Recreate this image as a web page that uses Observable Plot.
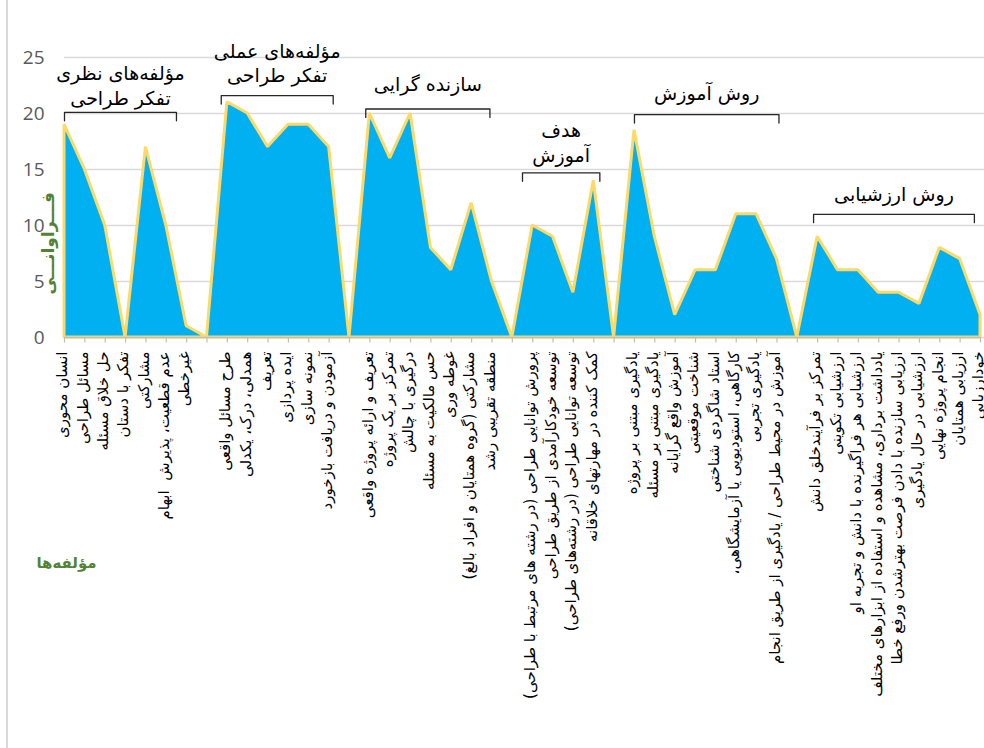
<!DOCTYPE html>
<html><head><meta charset="utf-8">
<script src="https://cdn.jsdelivr.net/npm/d3@7"></script>
<script src="https://cdn.jsdelivr.net/npm/@observablehq/plot@0.6"></script>
<style>
html,body{margin:0;padding:0;background:#fff;overflow:hidden;}
#wrap{position:relative;width:984px;height:748px;overflow:hidden;}
#border{position:absolute;left:6px;top:0;width:2px;height:748px;background:#d9d9d9;}
#chart{position:absolute;left:0;top:0;}
</style></head><body><div id="wrap"><div id="border"></div><div id="chart"></div></div>
<script>
// Category labels (empty string = gap between groups)
const categories = [
  "انسان محوری","مسائل طراحی","حل خلاق مسئله","تفکر با دستان","مشارکتی","عدم قطعیت، پذیرش  ابهام","غیرخطی","",
  "طرح مسائل واقعی","همدلی، درک، یکدلی","تعریف","ایده پردازی","نمونه سازی","آزمودن و دریافت بازخورد","",
  "تعریف و ارائه پروژه واقعی","تمرکز بر یک پروژه","درگیری با چالش","حس مالکیت به مسئله","غوطه وری","مشارکتی (گروه همتایان و افراد بالغ)","منطقه تقریبی رشد","",
  "پرورش توانایی طراحی (در رشته های مرتبط با طراحی)","توسعه خودکارآمدی از طریق طراحی","توسعه توانایی طراحی (در رشته‌های طراحی)","کمک کننده در مهارتهای خلاقانه","",
  "یادگیری مبتنی بر پروژه","یادگیری مبتنی بر مسئله","آموزش واقع گرایانه","شناخت موقعیتی","استاد شاگردی شناختی","کارگاهی، استودیویی یا آزمایشگاهی،","یادگیری تجربی","آموزش در محیط طراحی / یادگیری از طریق انجام","",
  "تمرکز بر فرآیندخلق دانش","ارزشیابی تکوینی","ارزشیابی هر فراگیرنده با دانش و تجربه او","یادداشت برداری، مشاهده و استفاده از ابزارهای مختلف","ارزیابی سازنده با دادن فرصت بهترشدن ورفع خطا","ارزشیابی در حال یادگیری","انجام پروژه نهایی","ارزیابی همتایان","خودارزیابی"
];
const frequencies = [
  19,15,10,0,17,10,1,0,
  21,20,17,19,19,17,0,
  20,16,20,8,6,12,5,0,
  10,9,4,14,0,
  18.5,9,2,6,6,11,11,7,0,
  9,6,6,4,4,3,8,7,2
];
const yTicks = [0,5,10,15,20,25];
const yTitle = "فـــراوانـــی";
const xTitle = "مؤلفه‌ها";

// Group annotations (data units: category index, frequency)
const groupTitles = ["مؤلفه‌های نظری\nتفکر طراحی","مؤلفه‌های عملی\nتفکر طراحی","سازنده گرایی","هدف\nآموزش","روش آموزش","روش ارزشیابی"];
const groupFrom   = [0, 7.7, 14.8, 22.5, 28, 36.8];
const groupTo     = [5.5, 13.2, 20.9, 26.3, 35.1, 44.7];
const groupLevel  = [20.1, 21.6, 20.4, 14.7, 19.9, 11.0];
const groupTitleLevel = [22.6, 24.6, 22.7, 17.5, 21.9, 12.9];
const yTitleLevel = 8.4;

const rtl = s => s.split("\n").map(l => "\u200F" + l + "\u200F").join("\n");

const data = categories.map((c, i) => ({i, label: c, v: frequencies[i]}));
const labelled = data.filter(d => d.label !== "");
const groups = groupTitles.map((t, k) => ({
  title: t, x1: groupFrom[k], x2: groupTo[k], level: groupLevel[k],
  mid: (groupFrom[k] + groupTo[k]) / 2, ty: groupTitleLevel[k]
}));
const bracketPts = groups.flatMap((g, k) => [
  {k, x: g.x1, y: g.level - 0.75},
  {k, x: g.x1, y: g.level},
  {k, x: g.x2, y: g.level},
  {k, x: g.x2, y: g.level - 0.75}
]);

const arabicFont = "'DejaVu Sans', sans-serif";

const chart = Plot.plot({
  width: 984,
  height: 748,
  marginLeft: 64,
  marginRight: 4,
  marginTop: 57,
  marginBottom: 411,
  style: {fontFamily: arabicFont, background: "transparent", overflow: "visible"},
  x: {domain: [0, categories.length - 1], axis: null},
  y: {domain: [0, 25], axis: null},
  marks: [
    Plot.ruleY(yTicks, {stroke: "#d9d9d9", strokeWidth: 1.5, insetRight: -4}),
    Plot.areaY(data, {x: "i", y: "v", fill: "#00B0F0", stroke: "#FFD966", strokeWidth: 3, strokeLinejoin: "miter", curve: "linear"}),
    Plot.ruleY([0], {stroke: "#bfbfbf", strokeWidth: 1.5}),
    Plot.ruleX(data, {x: "i", y1: 0, y2: -0.5, stroke: "#bfbfbf", strokeWidth: 1.2}),
    Plot.text(labelled, {x: "i", y: 0, text: d => rtl(d.label), rotate: -90, textAnchor: "end", lineAnchor: "middle", dx: -2, dy: 14, fontSize: 15, fill: "#000"}),
    Plot.text(yTicks, {frameAnchor: "left", y: d => d, text: d => String(d), textAnchor: "end", dx: -20, fontSize: 19, fill: "#595959", fontFamily: "'Open Sans', 'Liberation Sans', sans-serif"}),
    Plot.line(bracketPts, {x: "x", y: "y", z: "k", stroke: "#262626", strokeWidth: 1.3, curve: "linear"}),
    Plot.text(groups, {x: "mid", y: "ty", text: d => rtl(d.title), fontSize: 19, lineHeight: 1.3, fill: "#000"}),
    Plot.text([{t: yTitle, y: yTitleLevel}], {frameAnchor: "left", y: "y", text: d => rtl(d.t), rotate: -90, textAnchor: "middle", dx: -16, fontSize: 17, fontWeight: "bold", fill: "#548235"}),
    Plot.text([xTitle], {frameAnchor: "bottom-left", text: d => rtl(d), textAnchor: "middle", dx: 2, dy: 230, fontSize: 15, fontWeight: "bold", fill: "#548235"})
  ]
});
document.getElementById("chart").appendChild(chart);
</script>
</body></html>
